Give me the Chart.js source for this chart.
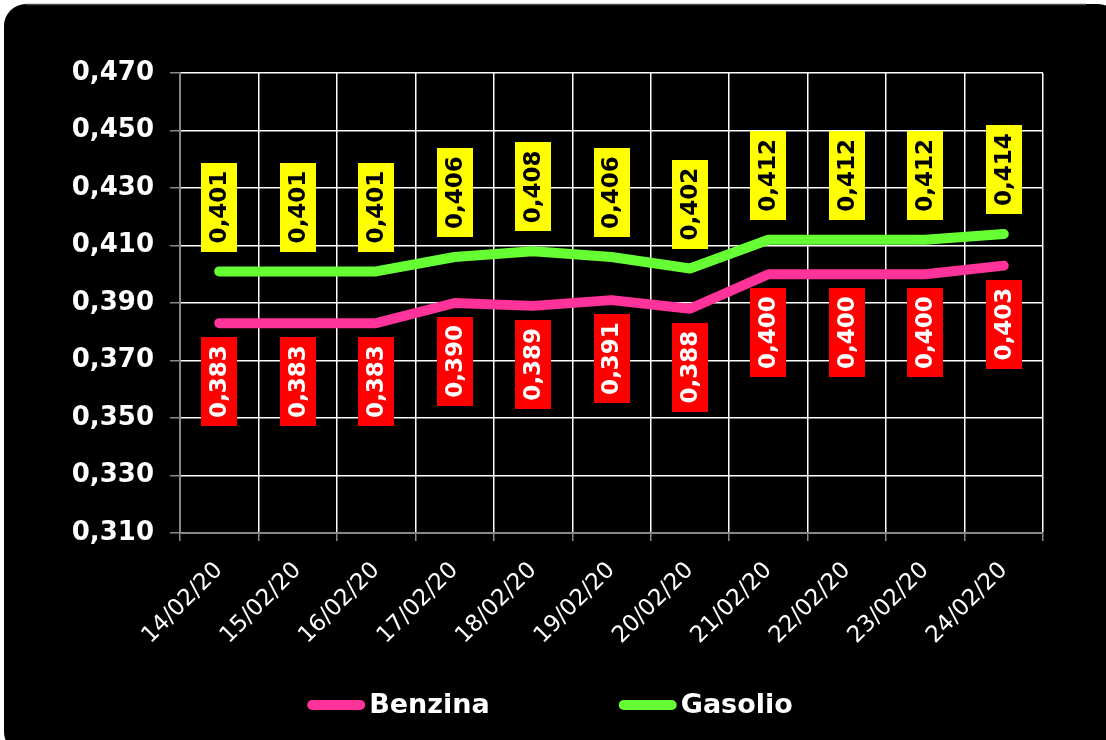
<!DOCTYPE html>
<html>
<head>
<meta charset="utf-8">
<script src="https://cdn.jsdelivr.net/npm/chart.js@4"></script>
<style>
html,body{margin:0;padding:0;background:#fff;}
#wrap{position:relative;width:1106px;height:740px;}
canvas{display:block;}
</style>
</head>
<body>
<div id="wrap"><canvas id="c" width="1106" height="740"></canvas></div>
<script>
const categories = ['14/02/20','15/02/20','16/02/20','17/02/20','18/02/20','19/02/20','20/02/20','21/02/20','22/02/20','23/02/20','24/02/20'];
const benzina = [0.383,0.383,0.383,0.390,0.389,0.391,0.388,0.400,0.400,0.400,0.403];
const gasolio = [0.401,0.401,0.401,0.406,0.408,0.406,0.402,0.412,0.412,0.412,0.414];
const yTickValues = [0.31,0.33,0.35,0.37,0.39,0.41,0.43,0.45,0.47];
const seriesNames = ['Benzina','Gasolio'];

const fmt = v => v.toFixed(3).replace('.', ',');

const bgPlugin = {
  id: 'bg',
  beforeDraw(chart) {
    const ctx = chart.ctx;
    ctx.save();
    ctx.fillStyle = '#ffffff';
    ctx.fillRect(0, 0, chart.width, chart.height);
    ctx.beginPath();
    ctx.roundRect(4, 4, chart.width + 10, chart.height + 10, 22);
    ctx.fillStyle = '#000000';
    ctx.fill();
    ctx.strokeStyle = '#4a4a4a';
    ctx.lineWidth = 1.5;
    ctx.beginPath();
    ctx.moveTo(26, 4.5);
    ctx.lineTo(chart.width - 20, 4.5);
    ctx.stroke();
    ctx.restore();
  }
};

const labelPlugin = {
  id: 'valueLabels',
  afterDatasetsDraw(chart) {
    const ctx = chart.ctx;
    ctx.save();
    ctx.font = 'bold 23px "DejaVu Sans"';
    chart.data.datasets.forEach((ds, di) => {
      const meta = chart.getDatasetMeta(di);
      const cfg = ds.labelStyle;
      meta.data.forEach((pt, i) => {
        const txt = fmt(ds.data[i]);
        const tw = ctx.measureText(txt).width;
        const boxH = tw + 16;
        const boxW = 36;
        const cx = pt.x;
        let top;
        if (cfg.above) top = pt.y - cfg.gap - boxH;
        else top = pt.y + cfg.gap;
        ctx.fillStyle = cfg.bg;
        ctx.fillRect(Math.round(cx - boxW / 2), Math.round(top), boxW, Math.round(boxH));
        ctx.save();
        ctx.translate(cx, top + boxH / 2);
        ctx.rotate(-Math.PI / 2);
        ctx.fillStyle = cfg.fg;
        ctx.textAlign = 'center';
        ctx.textBaseline = 'middle';
        ctx.fillText(txt, 0, 1);
        ctx.restore();
      });
    });
    ctx.restore();
  }
};

const legendPlugin = {
  id: 'customLegend',
  afterDraw(chart) {
    const ctx = chart.ctx;
    ctx.save();
    ctx.font = 'bold 27px "DejaVu Sans"';
    const lineW = 58, gapT = 4, gapItems = 129;
    const items = chart.data.datasets.map(ds => ({text: ds.label, color: ds.borderColor, tw: ctx.measureText(ds.label).width}));
    let total = 0;
    items.forEach((it, i) => { total += lineW + gapT + it.tw + (i ? gapItems : 0); });
    let x = 550 - total / 2;
    const y = 705;
    items.forEach(it => {
      ctx.strokeStyle = it.color;
      ctx.lineWidth = 10;
      ctx.lineCap = 'round';
      ctx.beginPath();
      ctx.moveTo(x + 5, y);
      ctx.lineTo(x + lineW - 5, y);
      ctx.stroke();
      ctx.fillStyle = '#ffffff';
      ctx.textAlign = 'left';
      ctx.textBaseline = 'middle';
      ctx.fillText(it.text, x + lineW + gapT, y + 1);
      x += lineW + gapT + it.tw + gapItems;
    });
    ctx.restore();
  }
};

new Chart(document.getElementById('c'), {
  type: 'line',
  data: {
    labels: categories,
    datasets: [
      {
        label: seriesNames[0],
        data: benzina,
        borderColor: '#ff3399',
        backgroundColor: '#ff3399',
        borderWidth: 10,
        borderCapStyle: 'round',
        borderJoinStyle: 'round',
        pointRadius: 0,
        tension: 0,
        labelStyle: {above: false, gap: 14, bg: '#ff0000', fg: '#ffffff'}
      },
      {
        label: seriesNames[1],
        data: gasolio,
        borderColor: '#66ff33',
        backgroundColor: '#66ff33',
        borderWidth: 10,
        borderCapStyle: 'round',
        borderJoinStyle: 'round',
        pointRadius: 0,
        tension: 0,
        labelStyle: {above: true, gap: 20, bg: '#ffff00', fg: '#000000'}
      }
    ]
  },
  options: {
    responsive: false,
    animation: false,
    layout: {padding: {left: 0, right: 63, top: 73, bottom: 0}},
    plugins: {legend: {display: false}, tooltip: {enabled: false}},
    scales: {
      x: {
        offset: true,
        grid: {offset: true, color: '#ffffff', lineWidth: 1.5, tickColor: '#888888', tickLength: 8, drawTicks: true},
        border: {color: '#888888', width: 2},
        ticks: {color: '#ffffff', font: {family: '"DejaVu Sans"', size: 23}, minRotation: 45, maxRotation: 45, padding: 16, autoSkip: false},
        afterFit(scale) { scale.height = 207; }
      },
      y: {
        min: 0.31, max: 0.47,
        grid: {color: '#ffffff', lineWidth: 1.5, tickColor: '#888888', tickLength: 10},
        border: {color: '#888888', width: 2},
        ticks: {color: '#ffffff', font: {family: '"DejaVu Sans"', size: 26, weight: 'bold'}, padding: 16, callback: v => fmt(v)},
        afterBuildTicks(scale) { scale.ticks = yTickValues.map(v => ({value: v})); },
        afterFit(scale) { scale.width = 180; }
      }
    }
  },
  plugins: [bgPlugin, labelPlugin, legendPlugin]
});
</script>
</body>
</html>
